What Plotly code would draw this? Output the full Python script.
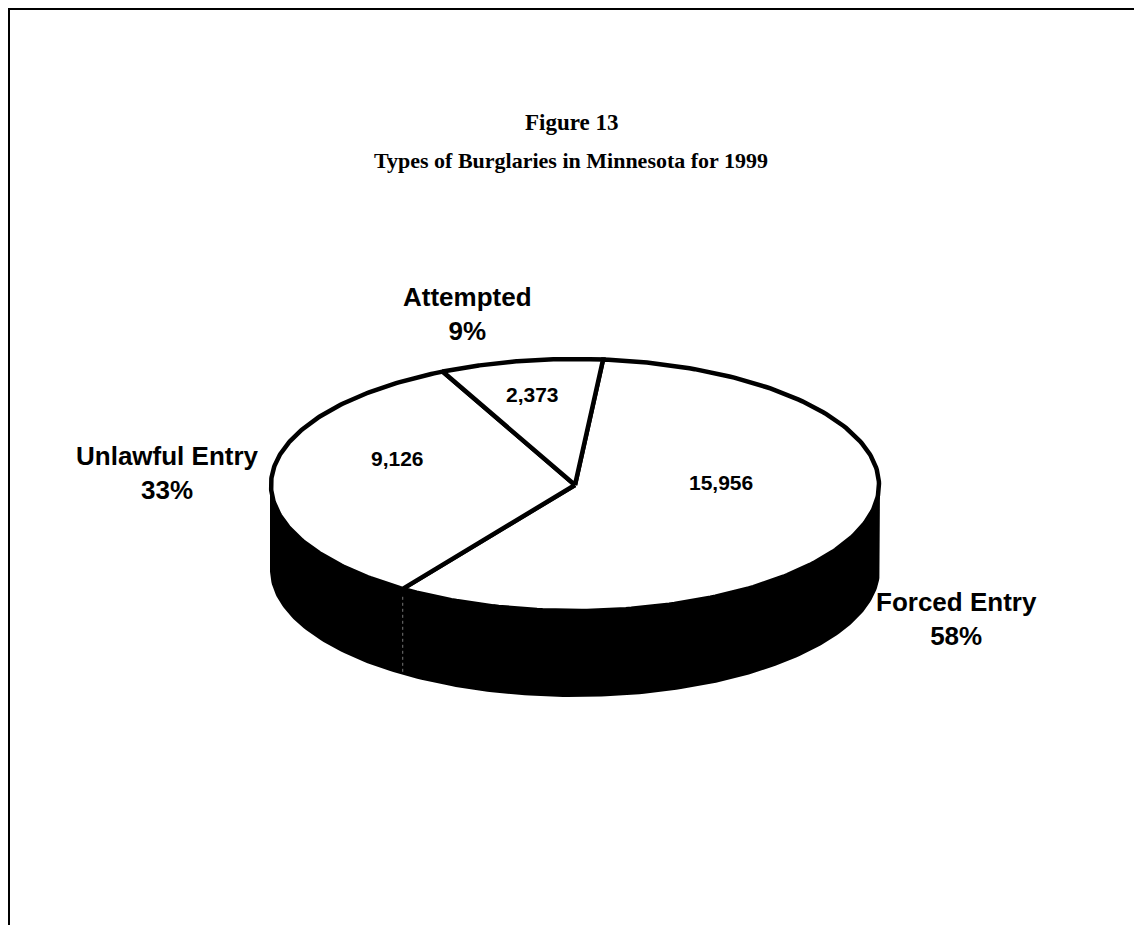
import numpy as np
import plotly.graph_objects as go

categories = ["Forced Entry", "Unlawful Entry", "Attempted"]
counts = [15956, 9126, 2373]
title_lines = ["Figure 13", "Types of Burglaries in Minnesota for 1999"]

# page offset (browser body margin) so that data units equal window pixels
OFF = 8
W, H = 1142, 925
CX, CY, RX, RY, DEPTH = 575, 485, 304, 126, 85
START = 84.7  # degrees, boundary between Attempted and Forced Entry, slices go clockwise

total = float(sum(counts))
shares = [c / total for c in counts]

def ell(theta_deg, dy=0.0):
    t = np.radians(theta_deg)
    return CX + RX * np.cos(t), CY - RY * np.sin(t) + dy

fig = go.Figure()

# side wall (front half)
th = np.linspace(180, 360, 200)
xt, yt = ell(th)
xb, yb = ell(th[::-1], DEPTH)
fig.add_trace(go.Scatter(x=np.r_[xt, xb, xt[:1]], y=np.r_[yt, yb, yt[:1]],
                         mode="lines", fill="toself", fillcolor="black",
                         line=dict(color="black", width=2), hoverinfo="skip", showlegend=False))

# slices on top face
angles = [START]
for s in shares:
    angles.append(angles[-1] - s * 360.0)

for i, cat in enumerate(categories):
    a0, a1 = angles[i], angles[i + 1]
    th = np.linspace(a0, a1, 200)
    xa, ya = ell(th)
    fig.add_trace(go.Scatter(x=np.r_[CX, xa, CX], y=np.r_[CY, ya, CY],
                             mode="lines", fill="toself", fillcolor="white",
                             line=dict(color="black", width=4.5), hoverinfo="skip",
                             showlegend=False, name=cat))

# faint seam on the side wall at the boundary facing front
for a in angles[1:-1]:
    aa = a % 360
    if 180 < aa < 360:
        x0, y0 = ell(aa)
        fig.add_trace(go.Scatter(x=[x0, x0], y=[y0 + 8, y0 + DEPTH], mode="lines",
                                 line=dict(color="#777777", width=1, dash="dot"),
                                 hoverinfo="skip", showlegend=False))

# value labels
value_pos = [(721, 482), (397, 458), (532, 394)]
for c, (x, y) in zip(counts, value_pos):
    fig.add_annotation(x=x, y=y, text=f"<b>{c:,}</b>", showarrow=False,
                       font=dict(family="Liberation Sans, Arial", size=21, color="black"))

# category labels
cat_pos = [(956, 619), (167, 473), (467, 314)]
for cat, s, (x, y) in zip(categories, shares, cat_pos):
    fig.add_annotation(x=x, y=y, text=f"<b>{cat}<br>{round(s * 100):.0f}%</b>", showarrow=False,
                       align="center",
                       font=dict(family="Liberation Sans, Arial", size=26, color="black"))

# title
fig.add_annotation(x=571, y=122, text=f"<b>{title_lines[0]}</b>", showarrow=False,
                   font=dict(family="Liberation Serif, Times New Roman", size=23, color="black"))
fig.add_annotation(x=571, y=160, text=f"<b>{title_lines[1]}</b>", showarrow=False,
                   font=dict(family="Liberation Serif, Times New Roman", size=22, color="black"))

# frame
fig.add_shape(type="rect", x0=9, y0=9, x1=1136, y1=960,
              line=dict(color="black", width=2), layer="above")

fig.update_xaxes(range=[OFF, W], visible=False, fixedrange=True)
fig.update_yaxes(range=[H, OFF], visible=False, fixedrange=True)
fig.update_layout(width=W - OFF, height=H - OFF, margin=dict(l=0, r=0, t=0, b=0),
                  paper_bgcolor="white", plot_bgcolor="white", showlegend=False)

fig.write_html("out.html")
